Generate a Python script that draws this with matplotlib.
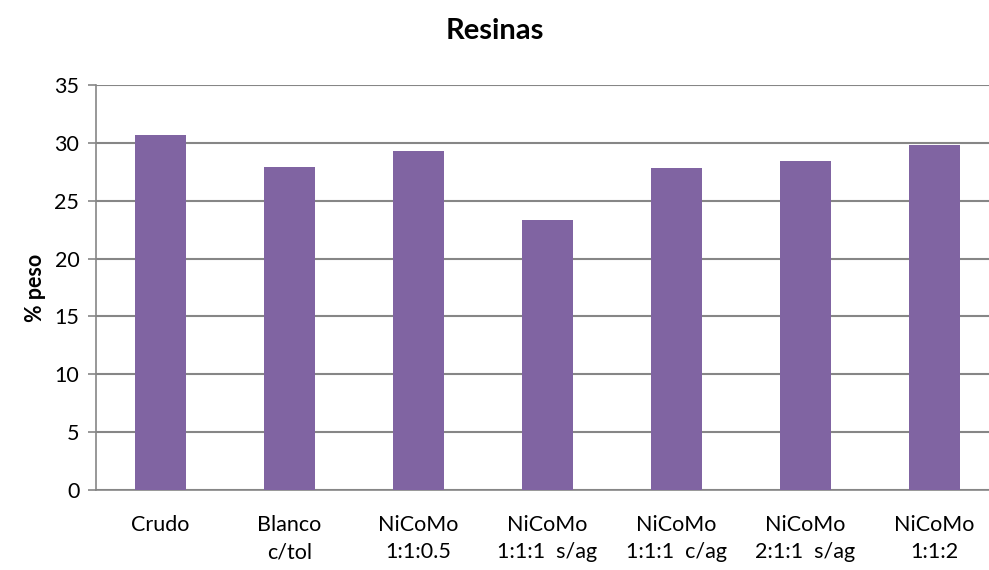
import numpy as np
import matplotlib.pyplot as plt

plt.rcParams['font.family'] = ['Lato', 'DejaVu Sans']

# categorias y valores (% peso)
categorias = ["Crudo", "Blanco\nc/tol", "NiCoMo\n1:1:0.5", "NiCoMo\n1:1:1  s/ag",
              "NiCoMo\n1:1:1  c/ag", "NiCoMo\n2:1:1  s/ag", "NiCoMo\n1:1:2"]
valores = [30.7, 27.9, 29.3, 23.3, 27.8, 28.4, 29.8]
yticks = [0, 5, 10, 15, 20, 25, 30, 35]

fig = plt.figure(figsize=(9.89, 5.70), dpi=100)
ax = fig.add_axes([96/989, 1 - 490/570, 903/989, 405/570])

x = np.arange(len(categorias))
ax.bar(x, valores, width=0.4, color="#8064A2", zorder=3)

ax.set_xlim(-0.5, len(categorias) - 0.5)
ax.set_ylim(0, 35)
ax.set_yticks(yticks)
ax.set_xticks(x)
ax.set_xticklabels(categorias, fontsize=15.5, linespacing=1.45)
ax.tick_params(axis='x', length=0, pad=18)
ax.tick_params(axis='y', length=6, width=1.2, color="#868686", labelsize=15.5, pad=6)

ax.grid(axis='y', color="#868686", linewidth=1.5, zorder=0)
for s in ['top', 'right']:
    ax.spines[s].set_visible(False)
for s in ['left', 'bottom']:
    ax.spines[s].set_color("#868686")
    ax.spines[s].set_linewidth(1.2)

ax.set_ylabel("% peso", fontsize=15.5, fontweight='bold', labelpad=6)
fig.text(0.5, 0.968, "Resinas", ha='center', va='top', fontsize=21, fontweight='bold')

fig.savefig("out.png", dpi=100)
